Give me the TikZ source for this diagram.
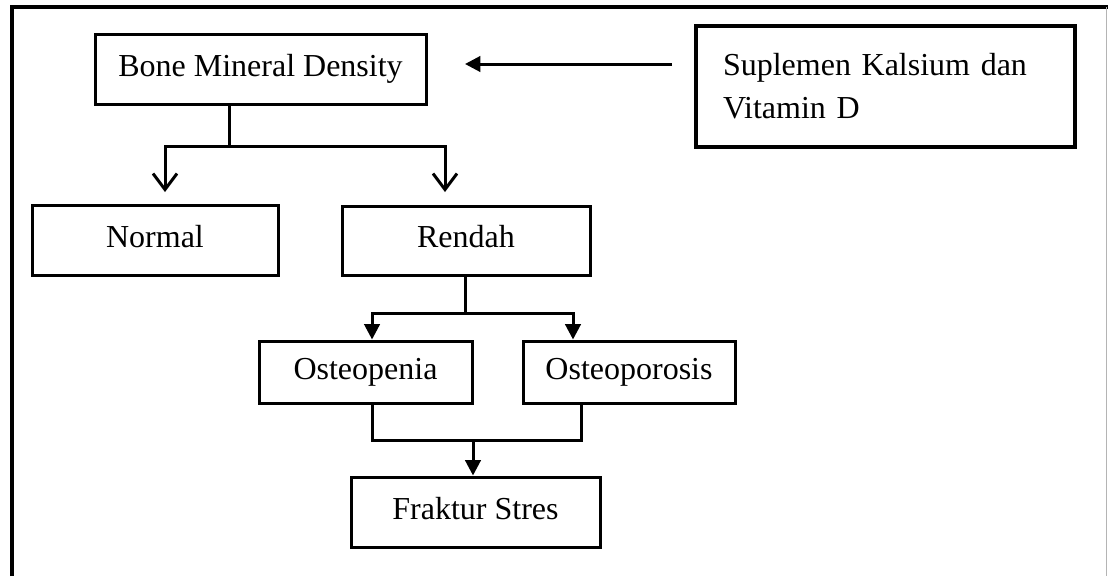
\documentclass[tikz,border=0pt]{standalone}
\usepackage{fontspec}
\setmainfont{Liberation Serif}
\usetikzlibrary{arrows.meta}
\definecolor{framegray}{HTML}{B4B4B4}

\begin{document}
\begin{tikzpicture}[
  x=0.75pt, y=-0.75pt,
  box/.style={draw,line width=2.25pt,font=\fontsize{24}{32}\selectfont,inner sep=0pt},
  onebox/.style={box,text height=16.8pt,text depth=6pt},
  conn/.style={line width=2.25pt},
  barb/.style={conn,-{Straight Barb[length=12pt,width=18pt]}},
  tri/.style={conn,-{Triangle[length=11.5pt,width=11.5pt]}}
]
  \useasboundingbox (0,0) rectangle (1108,576);
  % outer frame
  \draw[line width=3pt] (12,576) -- (12,7) -- (1108,7);
  \draw[framegray,line width=0.75pt] (1106,7) -- (1106,576);

  \node[onebox,minimum width=248.25pt,minimum height=52.5pt] (bmd) at (260.5,69) {Bone Mineral Density};
  \node[box,line width=3pt,minimum width=284.25pt,minimum height=90.75pt,
        text width=243.75pt,align=left] (supl) at (885.5,86) {Suplemen Kalsium dan\\Vitamin D};
  \node[onebox,minimum width=184.5pt,minimum height=52.5pt] (normal) at (155,240) {Normal};
  \node[onebox,minimum width=186pt,minimum height=51.75pt] (rendah) at (466,240.5) {Rendah};
  \node[onebox,minimum width=159.75pt,minimum height=46.5pt] (openia) at (365.5,372) {Osteopenia};
  \node[onebox,minimum width=159pt,minimum height=46.5pt] (oporosis) at (629,372) {Osteoporosis};
  \node[onebox,minimum width=186.75pt,minimum height=52.5pt] (fraktur) at (475.5,512) {Fraktur Stres};

  % supplement -> bone mineral density
  \coordinate (suplA) at (672,64);
  \coordinate (suplB) at (465,64);
  \draw[tri] (suplA) -- (suplB);

  % bone mineral density -> normal / rendah
  \coordinate (bmdJ) at (229,146);
  \coordinate (normalT) at (165,192);
  \coordinate (rendahT) at (445,192);
  \draw[conn] (bmd.south -| bmdJ) -- (bmdJ);
  \draw[barb] (bmdJ) -| (normalT);
  \draw[barb] (bmdJ) -| (rendahT);

  % rendah -> osteopenia / osteoporosis
  \coordinate (rendahJ) at (465,313);
  \draw[conn] (rendah.south -| rendahJ) -- (rendahJ);
  \draw[tri] (rendahJ) -| ([xshift=4.9pt]openia.north);
  \draw[tri] (rendahJ) -| ([xshift=-42pt]oporosis.north);

  % osteopenia / osteoporosis -> fraktur stres
  \coordinate (frakturJ) at (473,440);
  \draw[conn] ([xshift=4.9pt]openia.south) |- (frakturJ);
  \draw[conn] ([xshift=-36pt]oporosis.south) |- (frakturJ);
  \draw[tri] (frakturJ) -- (fraktur.north -| frakturJ);
\end{tikzpicture}
\end{document}
